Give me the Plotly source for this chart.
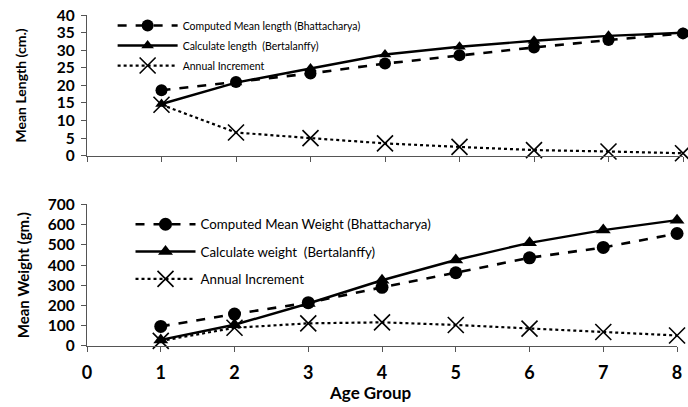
import plotly.graph_objects as go

age = [1, 2, 3, 4, 5, 6, 7, 8]

len_bhatt = [18.6, 21.0, 23.4, 26.2, 28.6, 30.8, 32.9, 34.8]
len_bert = [14.7, 20.8, 24.8, 28.8, 31.0, 32.7, 34.1, 35.0]
len_incr = [14.5, 6.6, 5.0, 3.5, 2.5, 1.6, 1.2, 0.7]

wt_bhatt = [97, 158, 214, 290, 362, 436, 487, 556]
wt_bert = [30, 105, 210, 325, 425, 510, 573, 622]
wt_incr = [25, 90, 112, 117, 104, 86, 69, 52]

len_ticks = [0, 5, 10, 15, 20, 25, 30, 35, 40]
wt_ticks = [0, 100, 200, 300, 400, 500, 600, 700]
age_ticks = [0, 1, 2, 3, 4, 5, 6, 7, 8]

FONT = "Lato"
BLACK = "black"
AX = "#555555"

fig = go.Figure()

# top panel
fig.add_trace(go.Scatter(x=age, y=len_bhatt, mode="lines+markers", name="Computed Mean length (Bhattacharya)",
                         line=dict(color=BLACK, width=2.6, dash="dash"), marker=dict(symbol="circle", size=12, color=BLACK),
                         xaxis="x", yaxis="y", legend="legend", legendgroup="a", cliponaxis=False))
fig.add_trace(go.Scatter(x=age, y=len_bert, mode="lines+markers", name="Calculate length  (Bertalanffy)",
                         line=dict(color=BLACK, width=2.4), marker=dict(symbol="triangle-up", size=11, color=BLACK),
                         xaxis="x", yaxis="y", legend="legend", legendgroup="b", cliponaxis=False))
fig.add_trace(go.Scatter(x=age, y=len_incr, mode="lines+markers", name="Annual Increment",
                         line=dict(color=BLACK, width=2.2, dash="dot"),
                         marker=dict(symbol="x-thin-open", size=16, color=BLACK, line=dict(width=1.6, color=BLACK)),
                         xaxis="x", yaxis="y", legend="legend", legendgroup="c", cliponaxis=False))

# bottom panel
fig.add_trace(go.Scatter(x=age, y=wt_bhatt, mode="lines+markers", name="Computed Mean Weight (Bhattacharya)",
                         line=dict(color=BLACK, width=2.6, dash="dash"), marker=dict(symbol="circle", size=13, color=BLACK),
                         xaxis="x2", yaxis="y2", legend="legend2", legendgroup="d", cliponaxis=False))
fig.add_trace(go.Scatter(x=age, y=wt_bert, mode="lines+markers", name="Calculate weight  (Bertalanffy)",
                         line=dict(color=BLACK, width=2.4), marker=dict(symbol="triangle-up", size=13, color=BLACK),
                         xaxis="x2", yaxis="y2", legend="legend2", legendgroup="e", cliponaxis=False))
fig.add_trace(go.Scatter(x=age, y=wt_incr, mode="lines+markers", name="Annual Increment",
                         line=dict(color=BLACK, width=2.2, dash="dot"),
                         marker=dict(symbol="x-thin-open", size=16, color=BLACK, line=dict(width=1.6, color=BLACK)),
                         xaxis="x2", yaxis="y2", legend="legend2", legendgroup="f", cliponaxis=False))

tickfont = dict(family=FONT, size=15.5, color="black", weight="bold")
common = dict(ticks="outside", ticklen=5, tickcolor=AX, showline=True, linecolor=AX, linewidth=1.2,
              showgrid=False, zeroline=False, automargin=False, ticklabeloverflow="allow")

fig.update_layout(
    width=688, height=407,
    margin=dict(l=87, r=5, t=8, b=61),
    paper_bgcolor="white", plot_bgcolor="white",
    font=dict(family=FONT, color="black"),
    xaxis=dict(domain=[0.0, 1.0], anchor="y", range=[0, 8], tickvals=age_ticks, showticklabels=False, **common),
    yaxis=dict(domain=[0.563, 0.979], anchor="x", range=[0, 40], tickvals=len_ticks, tickfont=tickfont,
               ticklabelstandoff=3,
               title=dict(text="Mean Length (cm.)", font=dict(family=FONT, size=14, weight="bold"), standoff=26),
               **common),
    xaxis2=dict(domain=[0.0, 0.99], anchor="y2", range=[0, 8], tickvals=age_ticks,
                tickfont=dict(family=FONT, size=18, color="black", weight="bold"), ticklabelstandoff=5, **common),
    yaxis2=dict(domain=[0.0, 0.419], anchor="x2", range=[0, 700], tickvals=wt_ticks, tickfont=tickfont,
                ticklabelstandoff=3,
                title=dict(text="Mean Weight (gm.)", font=dict(family=FONT, size=15, weight="bold"), standoff=14),
                **common),
    legend=dict(x=0.043, y=0.991, xanchor="left", yanchor="top", bgcolor="rgba(0,0,0,0)",
                font=dict(family=FONT, size=10.5, color="black"), itemwidth=60, tracegroupgap=1),
    legend2=dict(x=0.073, y=0.405, xanchor="left", yanchor="top", bgcolor="rgba(0,0,0,0)",
                 font=dict(family=FONT, size=13.3, color="black"), itemwidth=60, tracegroupgap=7),
    annotations=[dict(text="Age Group", xref="paper", yref="paper", x=0.475, y=-0.176, xanchor="center",
                      yanchor="bottom", showarrow=False,
                      font=dict(family=FONT, size=17, color="black", weight="bold"))],
)

# remove the browser's default 8px body margin so the figure fills the window exactly
fig.write_html("out.html", config={"displayModeBar": False},
               post_script="document.body.style.margin='0';")
